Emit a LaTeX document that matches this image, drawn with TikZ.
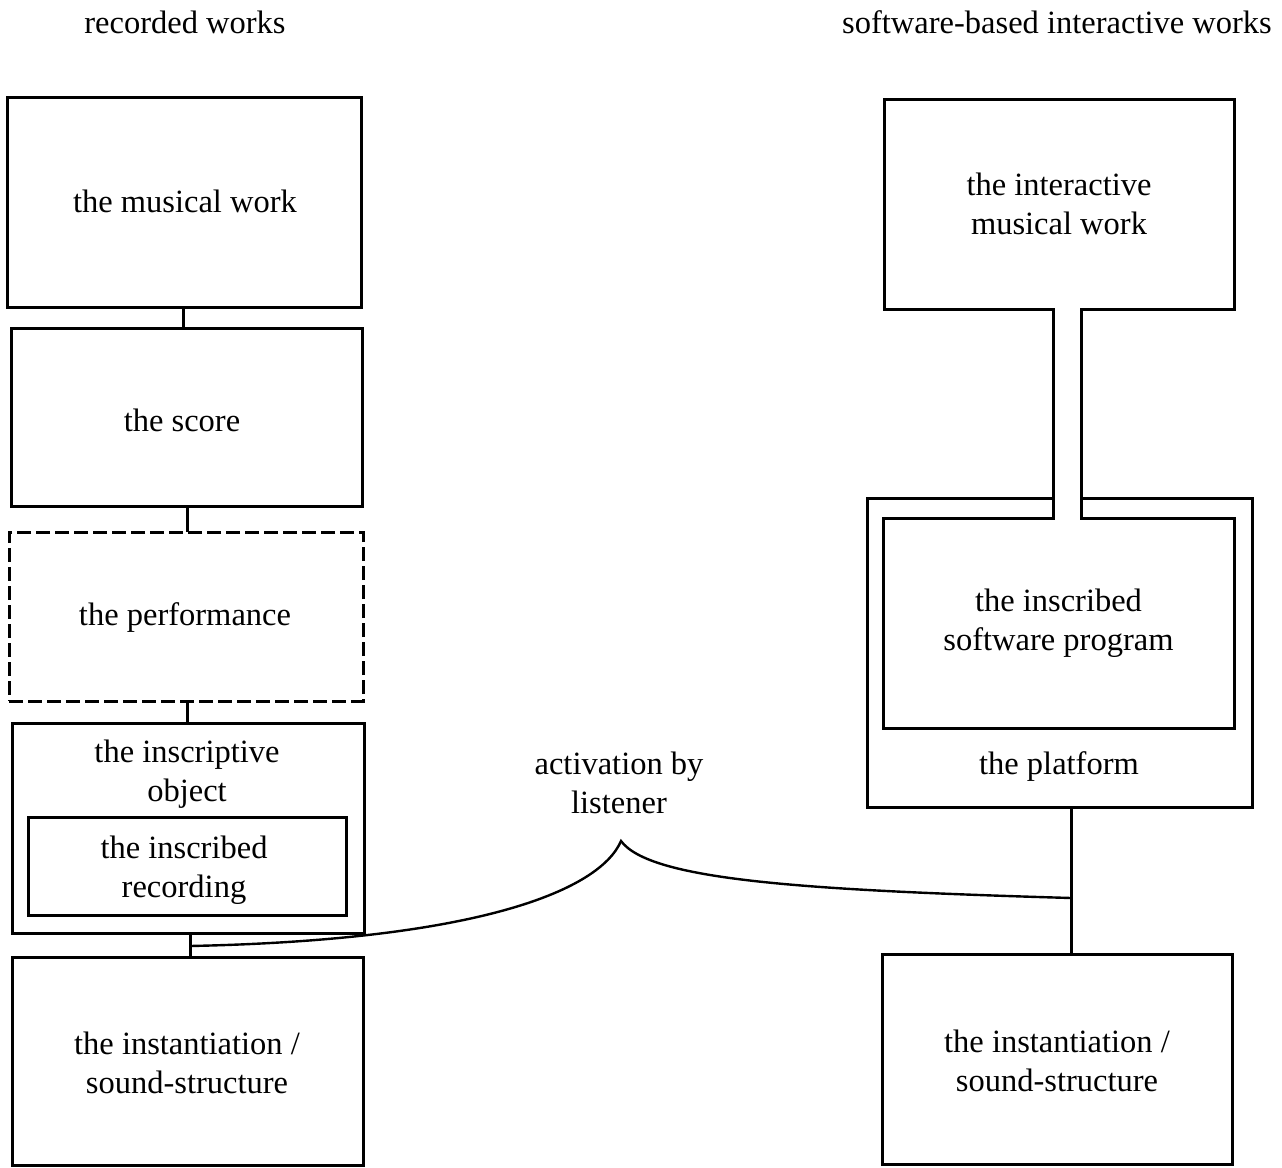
\documentclass[tikz,border=0pt]{standalone}
\usepackage{fontspec}
\setmainfont{Liberation Serif}
\begin{document}
\begin{tikzpicture}[x=1pt,y=-1pt,
  every node/.style={font=\fontsize{32.5}{39}\selectfont, align=center, inner sep=0pt, outer sep=0pt},
  box/.style={draw, line width=3pt},
  dashbox/.style={draw, line width=3pt, dash pattern=on 14pt off 5pt},
  plainbox/.style={},
  conn/.style={line width=3pt},
  outline/.style={line width=3pt, line join=miter},
  brace/.style={line width=2.4pt}]
\useasboundingbox (0,0) rectangle (1282,1167);

% titles
\node (tl) at (185,22) {recorded works};
\node (tr) at (1057,22) {software-based interactive works};

% left column
\node[box, minimum width=354pt, minimum height=210pt] (work) at (184,202) {};
\node (worktext) at (185,201) {the musical work};
\node[box, minimum width=351pt, minimum height=178pt] (score) at (186.5,417) {};
\node (scoretext) at (182,420) {the score};
\node[dashbox, minimum width=354pt, minimum height=169pt] (perf) at (186,616.5) {};
\node (perftext) at (185,618) {the performance};
\node[box, minimum width=352pt, minimum height=210pt] (insc) at (188,828) {};
\node (insctext) at (187,774) {the inscriptive\\object};
\node[box, minimum width=318pt, minimum height=98pt] (rec) at (187,866) {};
\node (rectext) at (184,870) {the inscribed\\recording};
\node[box, minimum width=351pt, minimum height=208pt] (instL) at (187.5,1061) {};
\node (instLtext) at (187,1063) {the instantiation /\\sound-structure};

% right column
\node[plainbox, minimum width=350pt, minimum height=210pt] (iw) at (1059,204) {the interactive\\musical work};
\node[plainbox, minimum width=351pt, minimum height=210pt] (prog) at (1058.5,623) {the inscribed\\software program};
\node[plainbox, minimum width=385pt, minimum height=309pt] (plat) at (1059.5,652.5) {};
\node (plattext) at (1059,767) {the platform};
\node[box, minimum width=350pt, minimum height=210pt] (instR) at (1057,1059) {};
\node (instRtext) at (1057,1061) {the instantiation /\\sound-structure};
\node (act) at (619,783) {activation by\\listener};

% channel coordinates
\coordinate (chl) at (1053,0);
\coordinate (chr) at (1081,0);

% interactive work + channel + program outline
\draw[outline] (chl |- iw.south) -- (iw.south west) -- (iw.north west) -- (iw.north east)
  -- (iw.south east) -- (chr |- iw.south) -- (chr |- prog.north) -- (prog.north east)
  -- (prog.south east) -- (prog.south west) -- (prog.north west) -- (chl |- prog.north) -- cycle;

% platform outline with gap
\draw[outline] (chl |- plat.north) -- (plat.north west) -- (plat.south west)
  -- (plat.south east) -- (plat.north east) -- (chr |- plat.north);

% left connectors
\draw[conn] (work.south -| 183,0) -- (score.north -| 183,0);
\draw[conn] (score.south -| 187,0) -- (perf.north -| 187,0);
\draw[conn] (perf.south -| 187,0) -- (insc.north -| 187,0);
\coordinate (tapL) at (190,946);
\draw[conn] (insc.south -| tapL) -- (instL.north -| tapL);

% right connector
\coordinate (tapR) at (1071,898);
\draw[conn] (plat.south -| tapR) -- (instR.north -| tapR);

% activation brace
\coordinate (peak) at (621,841);
\draw[brace] (tapL) .. controls (480,940) and (600,890) .. (peak)
  .. controls (650,880) and (800,890) .. (tapR);
\end{tikzpicture}
\end{document}
